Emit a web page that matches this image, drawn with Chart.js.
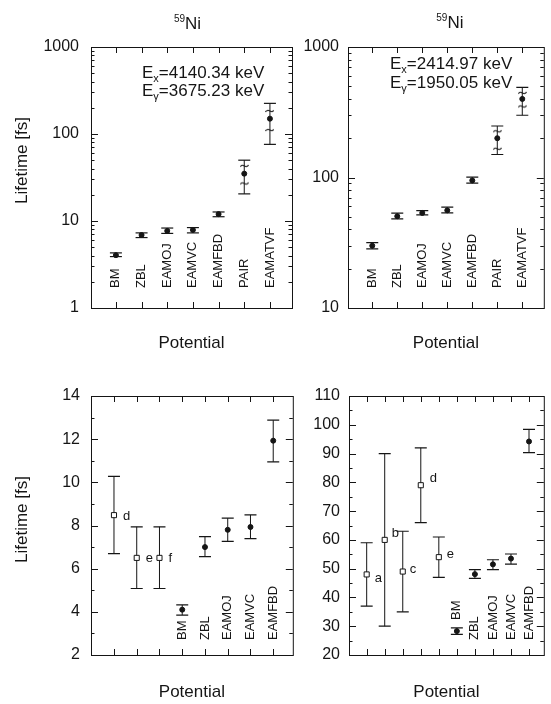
<!DOCTYPE html>
<html>
<head>
<meta charset="utf-8">
<script src="https://cdn.jsdelivr.net/npm/chart.js@4.4.1/dist/chart.umd.min.js"></script>
<style>
  html, body { margin: 0; padding: 0; background: #fff; }
  body { width: 551px; height: 704px; position: relative; overflow: hidden; }
  .panel { position: absolute; }
</style>
</head>
<body>
<div class="panel" style="left:0;top:0;width:300px;height:360px"><canvas id="tl"></canvas></div>
<div class="panel" style="left:300px;top:0;width:251px;height:360px"><canvas id="tr"></canvas></div>
<div class="panel" style="left:0;top:360px;width:300px;height:344px"><canvas id="bl"></canvas></div>
<div class="panel" style="left:300px;top:360px;width:251px;height:344px"><canvas id="br"></canvas></div>
<script>
// potentials in the top panels
const potentials = ['BM', 'ZBL', 'EAMOJ', 'EAMVC', 'EAMFBD', 'PAIR', 'EAMATVF'];

// top left, Ex = 4140.34 keV (log axis)
const lifeA = [4.05, 6.9, 7.7, 7.9, 12.0, 35, 150];
const lifeA_lo = [3.9, 6.45, 7.2, 7.3, 11.2, 20.5, 76];
const lifeA_hi = [4.3, 7.3, 8.3, 8.4, 12.7, 50, 225];
const lifeA_inLo = [null, null, null, null, null, 27, 111];
const lifeA_inHi = [null, null, null, null, null, 43, 184];

// top right, Ex = 2414.97 keV (log axis)
const lifeB = [30, 50.5, 53.5, 56, 95, 200, 400];
const lifeB_lo = [28.4, 48.2, 51.7, 53.5, 90.5, 150, 300];
const lifeB_hi = [31.7, 53.3, 55.8, 59.2, 100.6, 248, 490];
const lifeB_inLo = [null, null, null, null, null, 166, 350];
const lifeB_inHi = [null, null, null, null, null, 226, 445];

// bottom left: measured (open squares) then calculated
const expC = ['d', 'e', 'f'];
const expC_val = [8.48, 6.5, 6.5];
const expC_lo = [6.7, 5.08, 5.08];
const expC_hi = [10.28, 7.94, 7.94];
const calcC = ['BM', 'ZBL', 'EAMOJ', 'EAMVC', 'EAMFBD'];
const calcC_val = [4.1, 7.0, 7.8, 7.93, 11.93];
const calcC_lo = [3.85, 6.56, 7.26, 7.39, 10.95];
const calcC_hi = [4.32, 7.48, 8.34, 8.49, 12.88];

// bottom right
const expD = ['a', 'b', 'c', 'd', 'e'];
const expD_val = [48, 60, 49, 79, 54];
const expD_lo = [37, 30, 35, 66, 47];
const expD_hi = [59, 90, 63, 92, 61];
const calcD = ['BM', 'ZBL', 'EAMOJ', 'EAMVC', 'EAMFBD'];
const calcD_val = [28.3, 48.1, 51.5, 53.5, 94.2];
const calcD_lo = [27.2, 46.6, 49.7, 51.6, 90.3];
const calcD_hi = [29.4, 49.7, 53.1, 55.1, 98.4];

const ink = '#151515';
const fam = '"Liberation Sans", Arial, Helvetica, sans-serif';

function idx(n, start) { return Array.from({length: n}, (_, i) => i + start); }
function pts(xs, ys) { return xs.map((x, i) => ({x: x, y: ys[i]})).filter(p => p.y != null); }
function barPts(xs, lo, hi) {
    const out = [];
    xs.forEach((x, i) => { out.push({x: x, y: lo[i]}, {x: x, y: hi[i]}, {x: x, y: null}); });
    return out;
}

// little "~" mark for the inner error limits
const tilde = document.createElement('canvas');
tilde.width = 9; tilde.height = 6;
(function () {
    const g = tilde.getContext('2d');
    g.strokeStyle = ink; g.lineWidth = 1.1;
    g.beginPath(); g.moveTo(0.5, 4); g.bezierCurveTo(3, -1, 6, 7, 8.5, 2); g.stroke();
})();

function series(xs, val, lo, hi, open, inLo, inHi) {
    const sets = [{
        data: pts(xs, val), pointStyle: open ? 'rect' : 'circle',
        pointRadius: open ? 3.6 : 2.5, pointBackgroundColor: open ? '#fff' : ink,
        pointBorderColor: ink, pointBorderWidth: 1, showLine: false
    }];
    if (inLo) {
        sets.push({data: pts(xs, inLo).concat(pts(xs, inHi)), pointStyle: tilde, pointRadius: 4, showLine: false});
    }
    sets.push({
        data: pts(xs, lo).concat(pts(xs, hi)), pointStyle: 'line', pointRadius: 6,
        pointBorderColor: ink, pointBorderWidth: 1.2, showLine: false
    });
    sets.push({type: 'line', data: barPts(xs, lo, hi), borderColor: ink, borderWidth: 1, pointRadius: 0, spanGaps: false, fill: false});
    return sets;
}

const deco = {
    id: 'deco',
    afterDatasetsDraw(chart, args, o) {
        const {ctx, chartArea: a} = chart;
        const xs = chart.scales.x, ys = chart.scales.y;
        ctx.save();
        ctx.strokeStyle = ink; ctx.lineWidth = 1;
        ctx.strokeRect(a.left + 0.5, a.top + 0.5, a.right - a.left, a.bottom - a.top);
        ctx.beginPath();
        o.xTicks.forEach(v => {
            const px = Math.round(xs.getPixelForValue(v)) + 0.5;
            ctx.moveTo(px, a.bottom); ctx.lineTo(px, a.bottom - 6);
            ctx.moveTo(px, a.top); ctx.lineTo(px, a.top + 6);
        });
        const yTick = (v, len) => {
            const py = Math.round(ys.getPixelForValue(v)) + 0.5;
            ctx.moveTo(a.left, py); ctx.lineTo(a.left + len, py);
            ctx.moveTo(a.right, py); ctx.lineTo(a.right - len, py);
        };
        ys.ticks.forEach(t => yTick(t.value, 7));
        o.yMinor.forEach(v => yTick(v, 3.5));
        ctx.stroke();

        ctx.fillStyle = ink;
        ctx.font = '13px ' + fam;
        ctx.textAlign = 'left'; ctx.textBaseline = 'middle';
        o.cats.forEach(c => {
            ctx.save();
            ctx.translate(xs.getPixelForValue(c.x), a.bottom - (c.lift || o.catOff));
            ctx.rotate(-Math.PI / 2);
            ctx.fillText(c.text, 0, 0);
            ctx.restore();
        });
        (o.letters || []).forEach(l => {
            ctx.fillText(l.text, xs.getPixelForValue(l.x) + l.dx, ys.getPixelForValue(l.y) + l.dy);
        });

        if (o.yTitle) {
            ctx.save();
            ctx.font = '17px ' + fam;
            ctx.textAlign = 'center';
            ctx.translate(o.yTitle.x, (a.top + a.bottom) / 2 + o.yTitle.dy);
            ctx.rotate(-Math.PI / 2);
            ctx.fillText('Lifetime [fs]', 0, 0);
            ctx.restore();
        }

        ctx.textBaseline = 'alphabetic';
        if (o.energy) {
            const e = o.energy;
            e.rows.forEach((r, i) => {
                let x0 = a.left + e.x;
                const y0 = a.top + e.y + i * e.gap;
                ctx.font = '17px ' + fam; ctx.fillText(r[0], x0, y0); x0 += ctx.measureText(r[0]).width;
                ctx.font = '11px ' + fam; ctx.fillText(r[1], x0, y0 + 4); x0 += ctx.measureText(r[1]).width;
                ctx.font = '17px ' + fam; ctx.fillText(r[2], x0, y0);
            });
        }
        if (o.title) {
            ctx.font = '10px ' + fam; const w1 = ctx.measureText('59').width;
            ctx.font = '17px ' + fam; const w2 = ctx.measureText('Ni').width;
            const x0 = (a.left + a.right) / 2 + o.title.dx - (w1 + w2) / 2;
            ctx.font = '10px ' + fam; ctx.fillText('59', x0, o.title.y - 7);
            ctx.font = '17px ' + fam; ctx.fillText('Ni', x0 + w1, o.title.y);
        }
        ctx.restore();
    }
};

function makePanel(id, p) {
    new Chart(document.getElementById(id), {
        type: 'scatter',
        data: {datasets: p.datasets},
        plugins: [deco],
        options: {
            responsive: true,
            maintainAspectRatio: false,
            animation: false,
            devicePixelRatio: 1,
            layout: {padding: {left: 0, right: p.padR, top: p.padT, bottom: 0}},
            plugins: {legend: {display: false}, tooltip: {enabled: false}, deco: p.deco},
            scales: {
                x: {
                    type: 'linear', min: p.xMin, max: p.xMax,
                    afterFit: s => { s.height = p.xHeight; },
                    grid: {display: false, drawTicks: false},
                    border: {display: false},
                    ticks: {display: false},
                    title: {display: true, text: 'Potential', color: ink, font: {family: fam, size: 17}, padding: {top: 0, bottom: p.xTitlePad}}
                },
                y: {
                    type: p.log ? 'logarithmic' : 'linear', min: p.yMin, max: p.yMax,
                    afterFit: s => { s.width = p.yWidth; },
                    afterBuildTicks: s => { s.ticks = p.yTicks.map(v => ({value: v})); },
                    grid: {display: false, drawTicks: false},
                    border: {display: false},
                    ticks: {color: ink, font: {family: fam, size: 16}, padding: p.yPad, callback: v => String(v)}
                }
            }
        }
    });
}

function logMinor(lo, hi) {
    const out = [];
    for (let d = lo; d < hi; d *= 10) for (let m = 2; m <= 9; m++) out.push(m * d);
    return out;
}

const topX = idx(potentials.length, 0);

makePanel('tl', {
    datasets: series(topX, lifeA, lifeA_lo, lifeA_hi, false, lifeA_inLo, lifeA_inHi),
    padT: 47, padR: 8, yWidth: 91, xHeight: 52, xTitlePad: 6, yPad: 12,
    log: true, yMin: 1, yMax: 1000, yTicks: [1, 10, 100, 1000],
    xMin: -0.97, xMax: 6.86,
    deco: {
        xTicks: topX, yMinor: logMinor(1, 1000), catOff: 20,
        cats: potentials.map((t, i) => ({x: topX[i], text: t})),
        energy: {x: 51, y: 31, gap: 18, rows: [['E', 'x', '=4140.34 keV'], ['E', 'γ', '=3675.23 keV']]},
        title: {dx: -4, y: 29},
        yTitle: {x: 22, dy: -17}
    }
});

makePanel('tr', {
    datasets: series(topX, lifeB, lifeB_lo, lifeB_hi, false, lifeB_inLo, lifeB_inHi),
    padT: 47, padR: 2, yWidth: 48, xHeight: 52, xTitlePad: 6, yPad: 9,
    log: true, yMin: 10, yMax: 1000, yTicks: [10, 100, 1000],
    xMin: -0.97, xMax: 6.86,
    deco: {
        xTicks: topX, yMinor: logMinor(10, 1000), catOff: 20,
        cats: potentials.map((t, i) => ({x: topX[i], text: t})),
        energy: {x: 42, y: 22, gap: 19, rows: [['E', 'x', '=2414.97 keV'], ['E', 'γ', '=1950.05 keV']]},
        title: {dx: 4, y: 28}
    }
});

const blExpX = idx(expC.length, 0), blCalcX = idx(calcC.length, expC.length);
makePanel('bl', {
    datasets: series(blCalcX, calcC_val, calcC_lo, calcC_hi, false).concat(series(blExpX, expC_val, expC_lo, expC_hi, true)),
    padT: 36, padR: 7, yWidth: 91, xHeight: 49, xTitlePad: 1, yPad: 11,
    log: false, yMin: 2, yMax: 14, yTicks: [2, 4, 6, 8, 10, 12, 14],
    xMin: -1.01, xMax: 7.86,
    deco: {
        xTicks: idx(8, 0), yMinor: [3, 5, 7, 9, 11, 13], catOff: 15,
        cats: calcC.map((t, i) => ({x: blCalcX[i], text: t})),
        letters: expC.map((t, i) => ({x: blExpX[i], y: expC_val[i], text: t, dx: 9, dy: 1})),
        yTitle: {x: 22, dy: -6}
    }
});

const brExpX = idx(expD.length, 0), brCalcX = idx(calcD.length, expD.length);
const brLetterShift = [[8, 4], [7, -6], [7, -2], [9, -7], [8, -3]];
makePanel('br', {
    datasets: series(brCalcX, calcD_val, calcD_lo, calcD_hi, false).concat(series(brExpX, expD_val, expD_lo, expD_hi, true)),
    padT: 36, padR: 1, yWidth: 49, xHeight: 49, xTitlePad: 1, yPad: 9,
    log: false, yMin: 20, yMax: 110, yTicks: [20, 30, 40, 50, 60, 70, 80, 90, 100, 110],
    xMin: -0.98, xMax: 9.82,
    deco: {
        xTicks: idx(10, 0), yMinor: [25, 35, 45, 55, 65, 75, 85, 95, 105], catOff: 15,
        cats: calcD.map((t, i) => ({x: brCalcX[i], text: t, lift: t === 'BM' ? 35 : 0})),
        letters: expD.map((t, i) => ({x: brExpX[i], y: expD_val[i], text: t, dx: brLetterShift[i][0], dy: brLetterShift[i][1]}))
    }
});
</script>
</body>
</html>
